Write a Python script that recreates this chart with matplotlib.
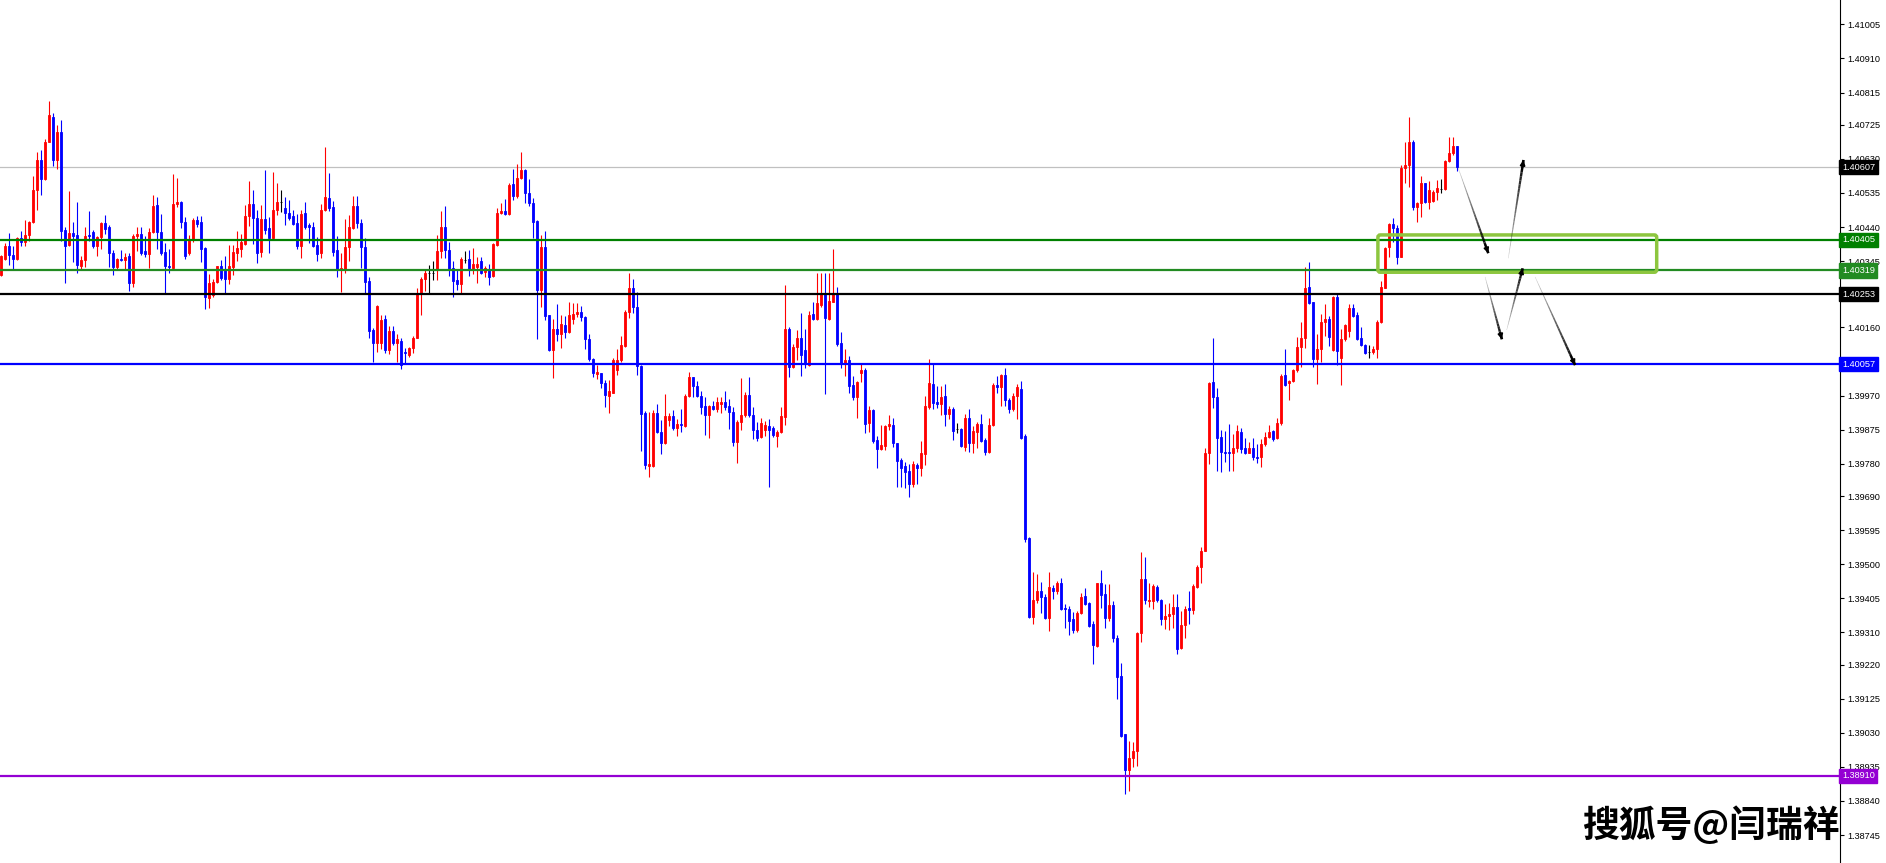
import matplotlib.pyplot as plt
import matplotlib.patches as patches
import numpy as np

# candle data (bar 0 = leftmost), prices
opens = [
    1.40307, 1.40351, 1.40388, 1.40362, 1.40351, 1.40409, 1.40397, 1.40418, 1.40453, 1.40544,
    1.40627, 1.40574, 1.40678, 1.40746, 1.40627, 1.40705, 1.40432, 1.40390, 1.40423, 1.40418,
    1.40332, 1.40347, 1.40418, 1.40426, 1.40386, 1.40412, 1.40451, 1.40441, 1.40369, 1.40330,
    1.40351, 1.40349, 1.40360, 1.40283, 1.40414, 1.40421, 1.40374, 1.40365, 1.40426, 1.40502,
    1.40425, 1.40371, 1.40332, 1.40326, 1.40505, 1.40511, 1.40454, 1.40367, 1.40404, 1.40460,
    1.40455, 1.40381, 1.40243, 1.40251, 1.40286, 1.40331, 1.40322, 1.40295, 1.40330, 1.40369,
    1.40380, 1.40393, 1.40471, 1.40504, 1.40466, 1.40370, 1.40462, 1.40436, 1.40410, 1.40487,
    1.40509, 1.40494, 1.40478, 1.40471, 1.40452, 1.40388, 1.40478, 1.40446, 1.40441, 1.40389,
    1.40369, 1.40487, 1.40522, 1.40495, 1.40376, 1.40320, 1.40322, 1.40383, 1.40438, 1.40500,
    1.40452, 1.40385, 1.40290, 1.40153, 1.40118, 1.40116, 1.40184, 1.40096, 1.40151, 1.40116,
    1.40122, 1.40092, 1.40083, 1.40104, 1.40132, 1.40255, 1.40295, 1.40313, 1.40313, 1.40320,
    1.40373, 1.40440, 1.40376, 1.40325, 1.40292, 1.40280, 1.40348, 1.40352, 1.40320, 1.40329,
    1.40345, 1.40315, 1.40323, 1.40304, 1.40390, 1.40480, 1.40484, 1.40475, 1.40560, 1.40527,
    1.40578, 1.40600, 1.40535, 1.40506, 1.40456, 1.40264, 1.40385, 1.40194, 1.40097, 1.40157,
    1.40143, 1.40167, 1.40148, 1.40183, 1.40197, 1.40202, 1.40190, 1.40128, 1.40071, 1.40030,
    1.40032, 1.40004, 1.39969, 1.39978, 1.40041, 1.40069, 1.40108, 1.40204, 1.40269, 1.40218,
    1.40052, 1.39921, 1.39775, 1.39774, 1.39922, 1.39868, 1.39837, 1.39902, 1.39913, 1.39879,
    1.39891, 1.39885, 1.39969, 1.40021, 1.39998, 1.39970, 1.39942, 1.39916, 1.39942, 1.39934,
    1.39948, 1.39953, 1.39941, 1.39923, 1.39842, 1.39897, 1.39916, 1.39972, 1.39916, 1.39874,
    1.39855, 1.39874, 1.39886, 1.39879, 1.39857, 1.39869, 1.39911, 1.40156, 1.40051, 1.40106,
    1.40130, 1.40097, 1.40055, 1.40197, 1.40185, 1.40224, 1.40252, 1.40183, 1.40232, 1.40255,
    1.40116, 1.40062, 1.40069, 1.39999, 1.39965, 1.40032, 1.40041, 1.39893, 1.39930, 1.39846,
    1.39821, 1.39830, 1.39886, 1.39888, 1.39837, 1.39790, 1.39774, 1.39760, 1.39723, 1.39776,
    1.39769, 1.39806, 1.39939, 1.40002, 1.39952, 1.39946, 1.39969, 1.39919, 1.39933, 1.39876,
    1.39877, 1.39828, 1.39908, 1.39837, 1.39869, 1.39891, 1.39846, 1.39812, 1.39888, 1.39999,
    1.39995, 1.40027, 1.39959, 1.39932, 1.39969, 1.39989, 1.39857, 1.39574, 1.39352, 1.39400,
    1.39424, 1.39408, 1.39351, 1.39434, 1.39424, 1.39447, 1.39378, 1.39376, 1.39347, 1.39317,
    1.39365, 1.39410, 1.39392, 1.39333, 1.39272, 1.39447, 1.39418, 1.39349, 1.39386, 1.39295,
    1.39188, 1.39026, 1.38926, 1.38960, 1.38978, 1.39309, 1.39459, 1.39397, 1.39397, 1.39437,
    1.39400, 1.39347, 1.39356, 1.39362, 1.39381, 1.39266, 1.39330, 1.39378, 1.39373, 1.39437,
    1.39491, 1.39538, 1.39811, 1.40007, 1.39966, 1.39854, 1.39814, 1.39814, 1.39809, 1.39823,
    1.39870, 1.39825, 1.39811, 1.39825, 1.39800, 1.39798, 1.39836, 1.39855, 1.39870, 1.39852,
    1.39895, 1.40028, 1.40004, 1.40011, 1.40042, 1.40105, 1.40130, 1.40272, 1.40230, 1.40072,
    1.40099, 1.40174, 1.40184, 1.40097, 1.40246, 1.40076, 1.40127, 1.40150, 1.40213, 1.40195,
    1.40130, 1.40111, 1.40091, 1.40091, 1.40099, 1.40174, 1.40271, 1.40383, 1.40448, 1.40436,
    1.40357, 1.40604, 1.40613, 1.40678, 1.40495, 1.40506, 1.40562, 1.40509, 1.40513, 1.40539,
    1.40545, 1.40545, 1.40624, 1.40647, 1.40667,
]
highs = [
    1.40362, 1.40395, 1.40423, 1.40387, 1.40412, 1.40429, 1.40460, 1.40457, 1.40581, 1.40650,
    1.40655, 1.40686, 1.40792, 1.40757, 1.40725, 1.40739, 1.40440, 1.40541, 1.40453, 1.40510,
    1.40358, 1.40441, 1.40486, 1.40432, 1.40414, 1.40453, 1.40474, 1.40446, 1.40376, 1.40353,
    1.40376, 1.40369, 1.40369, 1.40421, 1.40441, 1.40441, 1.40415, 1.40436, 1.40529, 1.40525,
    1.40477, 1.40395, 1.40379, 1.40588, 1.40578, 1.40513, 1.40469, 1.40418, 1.40466, 1.40472,
    1.40472, 1.40385, 1.40309, 1.40295, 1.40332, 1.40348, 1.40359, 1.40390, 1.40390, 1.40429,
    1.40422, 1.40501, 1.40568, 1.40543, 1.40487, 1.40501, 1.40599, 1.40469, 1.40594, 1.40562,
    1.40543, 1.40523, 1.40515, 1.40487, 1.40475, 1.40487, 1.40509, 1.40452, 1.40453, 1.40413,
    1.40504, 1.40664, 1.40592, 1.40513, 1.40415, 1.40367, 1.40462, 1.40473, 1.40526, 1.40526,
    1.40462, 1.40410, 1.40302, 1.40158, 1.40223, 1.40195, 1.40195, 1.40163, 1.40163, 1.40142,
    1.40130, 1.40104, 1.40106, 1.40136, 1.40269, 1.40301, 1.40320, 1.40334, 1.40345, 1.40419,
    1.40484, 1.40498, 1.40399, 1.40345, 1.40322, 1.40357, 1.40373, 1.40376, 1.40382, 1.40357,
    1.40357, 1.40332, 1.40337, 1.40396, 1.40492, 1.40508, 1.40517, 1.40563, 1.40603, 1.40615,
    1.40648, 1.40603, 1.40574, 1.40520, 1.40459, 1.40417, 1.40429, 1.40196, 1.40185, 1.40225,
    1.40194, 1.40192, 1.40230, 1.40227, 1.40229, 1.40221, 1.40192, 1.40141, 1.40074, 1.40055,
    1.40034, 1.40013, 1.40013, 1.40074, 1.40099, 1.40136, 1.40209, 1.40311, 1.40294, 1.40260,
    1.40055, 1.39927, 1.39925, 1.39930, 1.39948, 1.39902, 1.39974, 1.39921, 1.39930, 1.39904,
    1.39933, 1.39974, 1.40035, 1.40023, 1.40011, 1.39983, 1.39967, 1.39944, 1.39955, 1.39965,
    1.39967, 1.39984, 1.39962, 1.39939, 1.39902, 1.40020, 1.39979, 1.40021, 1.39939, 1.39897,
    1.39907, 1.39900, 1.39905, 1.39886, 1.39874, 1.39937, 1.40278, 1.40160, 1.40114, 1.40153,
    1.40199, 1.40155, 1.40206, 1.40232, 1.40311, 1.40311, 1.40313, 1.40311, 1.40378, 1.40274,
    1.40148, 1.40099, 1.40080, 1.40024, 1.40010, 1.40060, 1.40046, 1.39941, 1.39933, 1.39857,
    1.39888, 1.39888, 1.39916, 1.39908, 1.39839, 1.39795, 1.39786, 1.39779, 1.39788, 1.39783,
    1.39843, 1.39970, 1.40072, 1.40060, 1.39997, 1.39997, 1.40002, 1.39941, 1.39939, 1.39895,
    1.39879, 1.39919, 1.39933, 1.39885, 1.39897, 1.39919, 1.39853, 1.39908, 1.40004, 1.40024,
    1.40030, 1.40046, 1.39964, 1.39978, 1.40002, 1.40012, 1.39862, 1.39576, 1.39477, 1.39474,
    1.39450, 1.39418, 1.39477, 1.39443, 1.39454, 1.39461, 1.39390, 1.39383, 1.39368, 1.39370,
    1.39421, 1.39434, 1.39394, 1.39343, 1.39449, 1.39483, 1.39445, 1.39445, 1.39397, 1.39303,
    1.39224, 1.39028, 1.39006, 1.39004, 1.39311, 1.39534, 1.39520, 1.39447, 1.39445, 1.39442,
    1.39402, 1.39390, 1.39392, 1.39416, 1.39418, 1.39370, 1.39383, 1.39424, 1.39445, 1.39499,
    1.39547, 1.39825, 1.40007, 1.40130, 1.39991, 1.39873, 1.39871, 1.39892, 1.39862, 1.39889,
    1.39881, 1.39852, 1.39841, 1.39852, 1.39836, 1.39850, 1.39870, 1.39889, 1.39873, 1.39907,
    1.40030, 1.40100, 1.40014, 1.40043, 1.40133, 1.40176, 1.40330, 1.40342, 1.40232, 1.40141,
    1.40197, 1.40225, 1.40193, 1.40248, 1.40252, 1.40155, 1.40170, 1.40226, 1.40225, 1.40202,
    1.40160, 1.40113, 1.40111, 1.40107, 1.40181, 1.40290, 1.40385, 1.40450, 1.40466, 1.40446,
    1.40613, 1.40678, 1.40748, 1.40683, 1.40511, 1.40582, 1.40564, 1.40568, 1.40543, 1.40571,
    1.40574, 1.40627, 1.40692, 1.40692, 1.40667,
]
lows = [
    1.40304, 1.40347, 1.40335, 1.40321, 1.40347, 1.40387, 1.40386, 1.40400, 1.40451, 1.40488,
    1.40530, 1.40570, 1.40676, 1.40609, 1.40602, 1.40400, 1.40285, 1.40386, 1.40343, 1.40313,
    1.40321, 1.40330, 1.40400, 1.40381, 1.40358, 1.40379, 1.40421, 1.40330, 1.40305, 1.40321,
    1.40344, 1.40321, 1.40263, 1.40274, 1.40374, 1.40362, 1.40356, 1.40326, 1.40423, 1.40379,
    1.40361, 1.40257, 1.40311, 1.40323, 1.40495, 1.40437, 1.40350, 1.40362, 1.40397, 1.40441,
    1.40343, 1.40212, 1.40215, 1.40246, 1.40283, 1.40292, 1.40255, 1.40281, 1.40306, 1.40345,
    1.40357, 1.40390, 1.40443, 1.40393, 1.40341, 1.40357, 1.40422, 1.40369, 1.40406, 1.40474,
    1.40483, 1.40446, 1.40460, 1.40446, 1.40379, 1.40353, 1.40434, 1.40396, 1.40383, 1.40346,
    1.40355, 1.40485, 1.40485, 1.40359, 1.40302, 1.40260, 1.40311, 1.40345, 1.40434, 1.40436,
    1.40327, 1.40255, 1.40130, 1.40065, 1.40093, 1.40099, 1.40090, 1.40086, 1.40111, 1.40065,
    1.40043, 1.40062, 1.40078, 1.40088, 1.40130, 1.40195, 1.40262, 1.40255, 1.40292, 1.40292,
    1.40354, 1.40354, 1.40304, 1.40246, 1.40264, 1.40255, 1.40340, 1.40304, 1.40309, 1.40285,
    1.40309, 1.40301, 1.40278, 1.40301, 1.40388, 1.40475, 1.40473, 1.40473, 1.40515, 1.40522,
    1.40575, 1.40508, 1.40498, 1.40410, 1.40128, 1.40218, 1.40181, 1.40095, 1.40020, 1.40122,
    1.40102, 1.40130, 1.40146, 1.40171, 1.40190, 1.40179, 1.40100, 1.40067, 1.40023, 1.40015,
    1.39990, 1.39937, 1.39922, 1.39976, 1.40027, 1.40065, 1.40106, 1.40187, 1.40199, 1.40027,
    1.39816, 1.39765, 1.39744, 1.39772, 1.39865, 1.39807, 1.39835, 1.39885, 1.39874, 1.39857,
    1.39868, 1.39883, 1.39967, 1.39967, 1.39965, 1.39918, 1.39860, 1.39853, 1.39930, 1.39925,
    1.39921, 1.39930, 1.39876, 1.39829, 1.39783, 1.39874, 1.39911, 1.39911, 1.39848, 1.39843,
    1.39851, 1.39857, 1.39716, 1.39855, 1.39828, 1.39865, 1.39888, 1.40023, 1.40046, 1.40069,
    1.40025, 1.40046, 1.40053, 1.40181, 1.40181, 1.40216, 1.39974, 1.40182, 1.40230, 1.40108,
    1.40046, 1.40025, 1.39978, 1.39959, 1.39908, 1.40009, 1.39867, 1.39869, 1.39839, 1.39769,
    1.39818, 1.39818, 1.39874, 1.39828, 1.39716, 1.39716, 1.39713, 1.39688, 1.39716, 1.39724,
    1.39747, 1.39776, 1.39934, 1.39933, 1.39936, 1.39916, 1.39886, 1.39905, 1.39846, 1.39865,
    1.39828, 1.39816, 1.39814, 1.39811, 1.39823, 1.39840, 1.39804, 1.39811, 1.39885, 1.39976,
    1.39941, 1.39941, 1.39921, 1.39927, 1.39905, 1.39850, 1.39563, 1.39349, 1.39333, 1.39392,
    1.39365, 1.39347, 1.39315, 1.39404, 1.39418, 1.39372, 1.39322, 1.39304, 1.39309, 1.39311,
    1.39360, 1.39386, 1.39325, 1.39223, 1.39269, 1.39379, 1.39322, 1.39343, 1.39283, 1.39124,
    1.39019, 1.38859, 1.38869, 1.38934, 1.38937, 1.39283, 1.39390, 1.39381, 1.39376, 1.39394,
    1.39330, 1.39319, 1.39317, 1.39322, 1.39250, 1.39263, 1.39293, 1.39333, 1.39360, 1.39434,
    1.39448, 1.39536, 1.39779, 1.39935, 1.39761, 1.39758, 1.39784, 1.39759, 1.39761, 1.39814,
    1.39809, 1.39807, 1.39809, 1.39790, 1.39782, 1.39771, 1.39830, 1.39852, 1.39844, 1.39850,
    1.39889, 1.39997, 1.39958, 1.40009, 1.40037, 1.40051, 1.40102, 1.40226, 1.40051, 1.40002,
    1.40063, 1.40136, 1.40108, 1.40095, 1.40055, 1.40000, 1.40122, 1.40134, 1.40190, 1.40125,
    1.40108, 1.40085, 1.40074, 1.40086, 1.40074, 1.40173, 1.40269, 1.40357, 1.40399, 1.40336,
    1.40356, 1.40562, 1.40553, 1.40487, 1.40455, 1.40469, 1.40506, 1.40490, 1.40511, 1.40515,
    1.40536, 1.40543, 1.40622, 1.40641, 1.40597,
]
closes = [
    1.40358, 1.40388, 1.40362, 1.40351, 1.40409, 1.40397, 1.40418, 1.40453, 1.40544, 1.40627,
    1.40574, 1.40678, 1.40753, 1.40627, 1.40705, 1.40429, 1.40387, 1.40423, 1.40415, 1.40335,
    1.40349, 1.40415, 1.40414, 1.40386, 1.40412, 1.40451, 1.40435, 1.40369, 1.40330, 1.40350,
    1.40347, 1.40356, 1.40283, 1.40415, 1.40421, 1.40369, 1.40365, 1.40426, 1.40500, 1.40425,
    1.40369, 1.40332, 1.40330, 1.40505, 1.40511, 1.40453, 1.40360, 1.40404, 1.40460, 1.40449,
    1.40379, 1.40244, 1.40285, 1.40286, 1.40331, 1.40297, 1.40295, 1.40331, 1.40370, 1.40381,
    1.40397, 1.40471, 1.40504, 1.40466, 1.40369, 1.40462, 1.40432, 1.40410, 1.40487, 1.40511,
    1.40509, 1.40480, 1.40466, 1.40448, 1.40388, 1.40476, 1.40441, 1.40441, 1.40387, 1.40365,
    1.40487, 1.40523, 1.40494, 1.40371, 1.40320, 1.40325, 1.40385, 1.40441, 1.40500, 1.40452,
    1.40383, 1.40288, 1.40151, 1.40118, 1.40220, 1.40181, 1.40096, 1.40151, 1.40116, 1.40128,
    1.40055, 1.40088, 1.40102, 1.40132, 1.40255, 1.40295, 1.40313, 1.40313, 1.40313, 1.40373,
    1.40440, 1.40376, 1.40320, 1.40290, 1.40280, 1.40351, 1.40348, 1.40320, 1.40337, 1.40338,
    1.40311, 1.40325, 1.40301, 1.40392, 1.40478, 1.40484, 1.40476, 1.40557, 1.40527, 1.40578,
    1.40600, 1.40534, 1.40508, 1.40455, 1.40264, 1.40385, 1.40193, 1.40097, 1.40157, 1.40143,
    1.40170, 1.40148, 1.40194, 1.40197, 1.40204, 1.40188, 1.40128, 1.40071, 1.40032, 1.40037,
    1.40004, 1.39972, 1.39984, 1.40069, 1.40069, 1.40111, 1.40204, 1.40269, 1.40218, 1.40052,
    1.39919, 1.39777, 1.39779, 1.39922, 1.39868, 1.39837, 1.39913, 1.39913, 1.39879, 1.39891,
    1.39888, 1.39970, 1.40021, 1.39998, 1.39970, 1.39939, 1.39916, 1.39942, 1.39934, 1.39951,
    1.39951, 1.39937, 1.39923, 1.39842, 1.39897, 1.39916, 1.39972, 1.39916, 1.39874, 1.39853,
    1.39895, 1.39888, 1.39874, 1.39860, 1.39869, 1.39913, 1.40156, 1.40051, 1.40106, 1.40132,
    1.40083, 1.40057, 1.40195, 1.40185, 1.40227, 1.40252, 1.40187, 1.40234, 1.40255, 1.40114,
    1.40062, 1.40069, 1.39998, 1.39967, 1.40007, 1.40041, 1.39891, 1.39930, 1.39843, 1.39821,
    1.39832, 1.39886, 1.39891, 1.39837, 1.39789, 1.39769, 1.39758, 1.39724, 1.39778, 1.39769,
    1.39809, 1.39941, 1.40004, 1.39950, 1.39946, 1.39967, 1.39919, 1.39933, 1.39872, 1.39876,
    1.39829, 1.39908, 1.39837, 1.39871, 1.39891, 1.39843, 1.39814, 1.39888, 1.39999, 1.39995,
    1.40027, 1.39959, 1.39932, 1.39969, 1.39993, 1.39852, 1.39571, 1.39352, 1.39400, 1.39424,
    1.39408, 1.39351, 1.39437, 1.39424, 1.39447, 1.39376, 1.39376, 1.39343, 1.39317, 1.39365,
    1.39408, 1.39390, 1.39327, 1.39274, 1.39447, 1.39415, 1.39349, 1.39386, 1.39293, 1.39186,
    1.39022, 1.38926, 1.38960, 1.38980, 1.39309, 1.39459, 1.39399, 1.39400, 1.39440, 1.39400,
    1.39347, 1.39356, 1.39362, 1.39381, 1.39263, 1.39330, 1.39376, 1.39373, 1.39440, 1.39491,
    1.39538, 1.39811, 1.40004, 1.39966, 1.39852, 1.39812, 1.39809, 1.39809, 1.39823, 1.39870,
    1.39820, 1.39809, 1.39823, 1.39798, 1.39796, 1.39836, 1.39855, 1.39870, 1.39850, 1.39895,
    1.40026, 1.40000, 1.40011, 1.40042, 1.40105, 1.40130, 1.40271, 1.40229, 1.40072, 1.40100,
    1.40174, 1.40184, 1.40133, 1.40244, 1.40095, 1.40127, 1.40167, 1.40213, 1.40192, 1.40128,
    1.40111, 1.40088, 1.40091, 1.40099, 1.40174, 1.40272, 1.40381, 1.40448, 1.40436, 1.40357,
    1.40604, 1.40613, 1.40678, 1.40495, 1.40506, 1.40562, 1.40509, 1.40543, 1.40539, 1.40548,
    1.40545, 1.40624, 1.40647, 1.40667, 1.40607,
]

# horizontal levels drawn on the chart
level_prices = [1.40405, 1.40319, 1.40253, 1.40057, 1.38910]
level_colors = ['#008000', '#228b22', '#000000', '#0000ff', '#9400d3']
last_price = 1.40607

# price scale labels on the right
tick_values = [1.41005, 1.40910, 1.40815, 1.40725, 1.40630, 1.40535, 1.40440, 1.40345,
               1.40160, 1.39970, 1.39875, 1.39780, 1.39690, 1.39595, 1.39500, 1.39405,
               1.39310, 1.39220, 1.39125, 1.39030, 1.38935, 1.38840, 1.38745]

# green zone box (bar index range, price range)
zone_bars = (344.3, 414.0)
zone_prices = (1.40314, 1.40418)

# hand drawn forecast arrows: (bar index, price) start -> end
forecast_arrows = [
    ((364.4, 1.40604), (371.9, 1.40367)),
    ((376.9, 1.40353), (380.7, 1.40627)),
    ((371.1, 1.40301), (375.3, 1.40127)),
    ((376.5, 1.40153), (380.5, 1.40325)),
    ((383.6, 1.40301), (393.6, 1.40055)),
]

watermark = '搜狐号@闫瑞祥'

W, H = 1886, 863
plot_right = 1840
fig = plt.figure(figsize=(W / 100, H / 100), dpi=100)
ax = fig.add_axes([0, 0, plot_right / W, 1])

o = np.array(opens)
h = np.array(highs)
l = np.array(lows)
c = np.array(closes)
x = np.arange(len(c))
cols = np.where(c > o, '#ff0000', np.where(c < o, '#0000ff', '#000000'))

# wicks and bodies
ax.vlines(x, l, h, colors=cols, linewidth=0.8, zorder=2)
ax.bar(x, np.abs(c - o), width=0.55, bottom=np.minimum(o, c), color=cols,
       edgecolor=cols, linewidth=0.6, zorder=2)

# levels
ax.axhline(last_price, color='#c0c0c0', linewidth=0.9, zorder=1)
for p, col in zip(level_prices, level_colors):
    ax.axhline(p, color=col, linewidth=1.6, zorder=3)

# zone rectangle, slightly rounded corners
ax.add_patch(patches.FancyBboxPatch((zone_bars[0], zone_prices[0]),
                                    zone_bars[1] - zone_bars[0],
                                    zone_prices[1] - zone_prices[0],
                                    boxstyle='round,pad=0,rounding_size=0.6',
                                    mutation_aspect=0.000028 / 0.25,
                                    fill=False, edgecolor='#8dc63f',
                                    linewidth=2.5, zorder=4))

# arrows: thin/faint at the tail, bold at the head
for (x0, y0), (x1, y1) in forecast_arrows:
    n = 24
    t = np.linspace(0, 1, n + 1)
    xs = x0 + (x1 - x0) * t
    ys = y0 + (y1 - y0) * t
    for k in range(n):
        f = (k + 1) / n
        ax.plot(xs[k:k + 2], ys[k:k + 2], color='black', alpha=0.15 + 0.85 * f,
                linewidth=0.3 + 1.6 * f, solid_capstyle='butt', zorder=5)
    ax.annotate('', xy=(x1, y1), xytext=(x0 + (x1 - x0) * 0.9, y0 + (y1 - y0) * 0.9),
                arrowprops=dict(arrowstyle='-|>', color='black', lw=1.3,
                                mutation_scale=7, shrinkA=0, shrinkB=0), zorder=6)

ax.set_xlim(-0.175, (plot_right - 0.7) / 4)
ax.set_ylim(1.38667, 1.41073)

for s in ['left', 'top', 'bottom']:
    ax.spines[s].set_visible(False)
ax.spines['right'].set_color('black')
ax.spines['right'].set_linewidth(0.8)
ax.set_xticks([])
ax.yaxis.tick_right()
ax.set_yticks(tick_values)
ax.set_yticklabels([f'{v:.5f}' for v in tick_values])
ax.tick_params(axis='y', direction='out', length=3, width=0.8, pad=2,
               labelsize=6.6, colors='black')
for lab in ax.get_yticklabels():
    lab.set_family('Liberation Sans')

# price tags on the scale
tags = [(last_price, '#000000')] + list(zip(level_prices, level_colors))
for p, col in tags:
    ax.text(1.0011, p, f'{p:.5f}', transform=ax.get_yaxis_transform(),
            color='white', fontsize=6.6, family='Liberation Sans', va='center', ha='left',
            bbox=dict(boxstyle='square,pad=0.28', fc=col, ec=col), zorder=7, clip_on=False)

fig.text(plot_right / W, 1 - 826 / H, watermark, ha='right', va='center', fontsize=26.5,
         fontweight='bold', family=['Noto Sans CJK SC', 'DejaVu Sans'], color='black')

fig.savefig('out.png', dpi=100)
